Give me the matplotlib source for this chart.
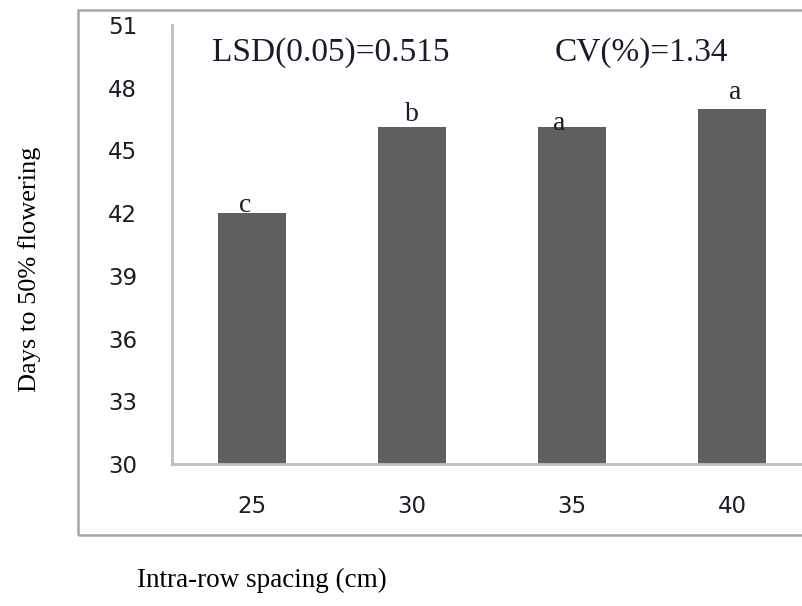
import matplotlib.pyplot as plt
from matplotlib.patches import Rectangle

# data
spacing = ['25', '30', '35', '40']
days = [42.0, 46.1, 46.1, 47.0]
letters = ['c', 'b', 'a', 'a']
yticks = [30, 33, 36, 39, 42, 45, 48, 51]

fig = plt.figure(figsize=(8.02, 6.06), dpi=100)

# outer chart frame (runs off the right edge like the original)
fig.patches.append(Rectangle((78 / 802, 71 / 606), 1.0, 525 / 606,
                             transform=fig.transFigure, fill=False,
                             edgecolor='#a6a6a6', linewidth=1.8))

ax = fig.add_axes([172 / 802, 142 / 606, 640 / 802, 439 / 606])
x = range(len(spacing))
ax.bar(x, days, width=0.42, color='#5f5f5f')
ax.set_ylim(30, 51)
ax.set_xlim(-0.5, 3.5)
ax.set_yticks(yticks)
ax.set_xticks(list(x))
ax.set_xticklabels(spacing)

for s in ['top', 'right']:
    ax.spines[s].set_visible(False)
for s in ['left', 'bottom']:
    ax.spines[s].set_color('#bfbfbf')
    ax.spines[s].set_linewidth(2)

ax.tick_params(axis='both', length=0, labelsize=16.5, labelcolor='#1c1c24')
ax.tick_params(axis='y', pad=25)
ax.tick_params(axis='x', pad=22)
for lab in ax.get_xticklabels() + ax.get_yticklabels():
    lab.set_fontfamily('DejaVu Sans')

# significance letters (offsets in data units from bar tops)
offs = [(-0.04, 0.05), (0.0, 0.3), (-0.08, -0.1), (0.02, 0.48)]
for i, (v, l) in enumerate(zip(days, letters)):
    ax.text(i + offs[i][0], v + offs[i][1], l, ha='center', va='baseline',
            fontsize=20, family='Liberation Serif', color='#1a1a2e')

ax.text(-0.25, 49.3, 'LSD(0.05)=0.515', ha='left', va='baseline',
        fontsize=24, family='Liberation Serif', color='#1a1a2e')
ax.text(1.89, 49.3, 'CV(%)=1.34', ha='left', va='baseline',
        fontsize=24, family='Liberation Serif', color='#1a1a2e')

fig.text(30 / 802, 0.555, 'Days to 50% flowering', rotation=90, ha='center',
         va='center', fontsize=19, family='Liberation Serif')
fig.text(262 / 802, 0.043, 'Intra-row spacing (cm)', ha='center',
         va='center', fontsize=19.5, family='Liberation Serif')

fig.savefig('out.png', dpi=100)
